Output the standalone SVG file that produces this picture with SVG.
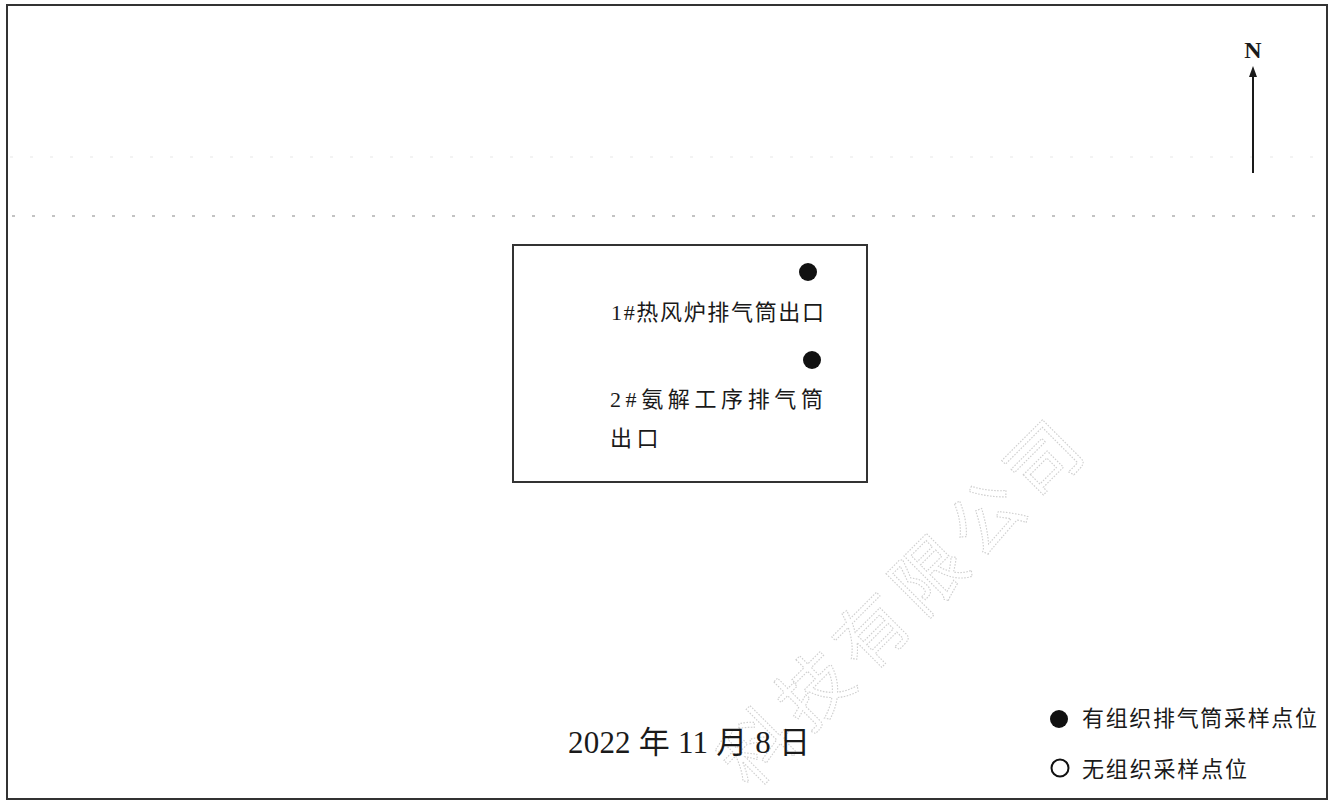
<svg xmlns="http://www.w3.org/2000/svg" width="1334" height="807" viewBox="0 0 1334 807">
<style>
.frame{fill:none;stroke:#333;stroke-width:2}
.serif{font-family:"Liberation Serif","Noto Sans CJK SC",serif;fill:#1a1a1a}
.sans{font-family:"Noto Sans CJK SC","Liberation Sans",sans-serif;fill:#1a1a1a}
.dot{fill:#111}
.wm{font-family:"Noto Sans CJK SC",sans-serif;fill:none;stroke:#cfcfcf;stroke-width:1.1;stroke-dasharray:1.5 1.5}
</style>
<rect width="1334" height="807" fill="#fff"/>
<g id="background">
  <line x1="10" y1="157" x2="1325" y2="157" stroke="#f0f0f0" stroke-width="1.5" stroke-dasharray="3 17"/>
  <line x1="12" y1="216" x2="1325" y2="216" stroke="#b0b0b0" stroke-width="1.5" stroke-dasharray="3 17"/>
  <text class="wm" font-size="72" text-anchor="middle" transform="translate(903,600) rotate(-45)" x="0" y="27" letter-spacing="9">科技有限公司</text>
</g>
<g id="frame">
  <rect class="frame" x="7" y="5" width="1320" height="794"/>
</g>
<g id="plant">
  <rect class="frame" x="513" y="245" width="354" height="237" stroke="#222"/>
</g>
<g id="point1">
  <circle class="dot" cx="808" cy="272" r="9"/>
  <text class="serif" x="611" y="320" font-size="22" textLength="213" lengthAdjust="spacing">1#热风炉排气筒出口</text>
</g>
<g id="point2">
  <circle class="dot" cx="812" cy="360" r="9"/>
  <text class="serif" x="610" y="407" font-size="22" textLength="213" lengthAdjust="spacing">2#氨解工序排气筒</text>
  <text class="serif" x="610" y="446" font-size="22" letter-spacing="4.6">出口</text>
</g>
<g id="north">
  <text class="serif" x="1253" y="58" font-size="24" font-weight="bold" text-anchor="middle">N</text>
  <line x1="1253" y1="173" x2="1253" y2="74" stroke="#1a1a1a" stroke-width="2"/>
  <polygon points="1253,66 1249,77 1257,77" fill="#1a1a1a"/>
</g>
<g id="date">
  <text class="serif" x="568" y="753" font-size="31" textLength="242" lengthAdjust="spacing">2022 年 11 月 8 日</text>
</g>
<g id="legend">
  <circle class="dot" cx="1059" cy="719" r="9"/>
  <text class="sans" x="1082" y="726" font-size="22" textLength="235" lengthAdjust="spacing">有组织排气筒采样点位</text>
  <circle cx="1060" cy="768" r="8.5" fill="none" stroke="#111" stroke-width="2"/>
  <text class="sans" x="1082" y="777" font-size="22" textLength="165" lengthAdjust="spacing">无组织采样点位</text>
</g>
<g id="connectors"></g>
</svg>
